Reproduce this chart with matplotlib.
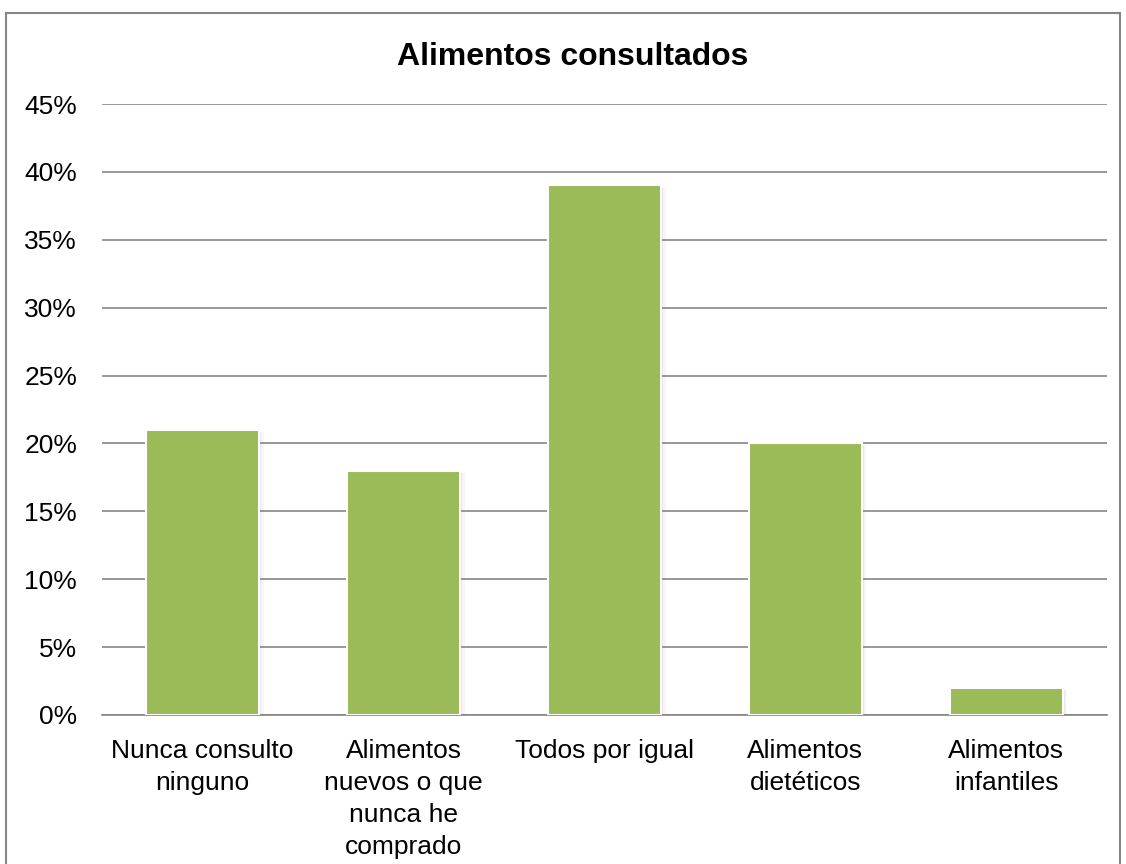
import numpy as np
import matplotlib.pyplot as plt
from matplotlib.patches import Rectangle
from matplotlib.ticker import PercentFormatter

categories = ["Nunca consulto\nninguno", "Alimentos\nnuevos o que\nnunca he\ncomprado",
              "Todos por igual", "Alimentos\ndietéticos", "Alimentos\ninfantiles"]
values = [21, 18, 39, 20, 2]
yticks = [0, 5, 10, 15, 20, 25, 30, 35, 40, 45]

plt.rcParams['font.family'] = ['Liberation Sans', 'DejaVu Sans']

fig = plt.figure(figsize=(11.26, 8.64), dpi=100)
ax = fig.add_axes([0.0906, 0.1725, 0.8924, 0.7071])

x = np.arange(len(values))
width = 0.56
# soft shadow
for off, a in [(0.012, 0.12), (0.024, 0.07)]:
    ax.bar(x + off, values, width, bottom=-0.15, color="#808080", alpha=a, zorder=2)
ax.bar(x, values, width, color="#9BBB59", edgecolor="white", linewidth=1.5, zorder=3)

ax.set_xlim(-0.5, len(values) - 0.5)
ax.set_ylim(0, 45)
ax.set_yticks(yticks)
ax.yaxis.set_major_formatter(PercentFormatter(decimals=0))
ax.set_xticks(x)
ax.set_xticklabels(categories, fontsize=19, linespacing=1.42)
ax.tick_params(axis="y", labelsize=19, length=0, pad=18)
ax.tick_params(axis="x", length=0, pad=17)
ax.grid(axis="y", color="#868686", linewidth=1.2, zorder=1)
ax.set_axisbelow(True)
for s in ["left", "right", "top"]:
    ax.spines[s].set_visible(False)
ax.spines["bottom"].set_color("#868686")
ax.spines["bottom"].set_linewidth(1.2)

fig.text(0.509, 0.934, "Alimentos consultados", ha="center", va="center",
         fontsize=23, fontweight="bold")

fig.patches.append(Rectangle((6 / 1126, -0.01), 1114 / 1126, 1 - 13 / 864 + 0.01,
                             transform=fig.transFigure, fill=False,
                             edgecolor="#868686", linewidth=1.5))

fig.savefig("out.png", dpi=100)
